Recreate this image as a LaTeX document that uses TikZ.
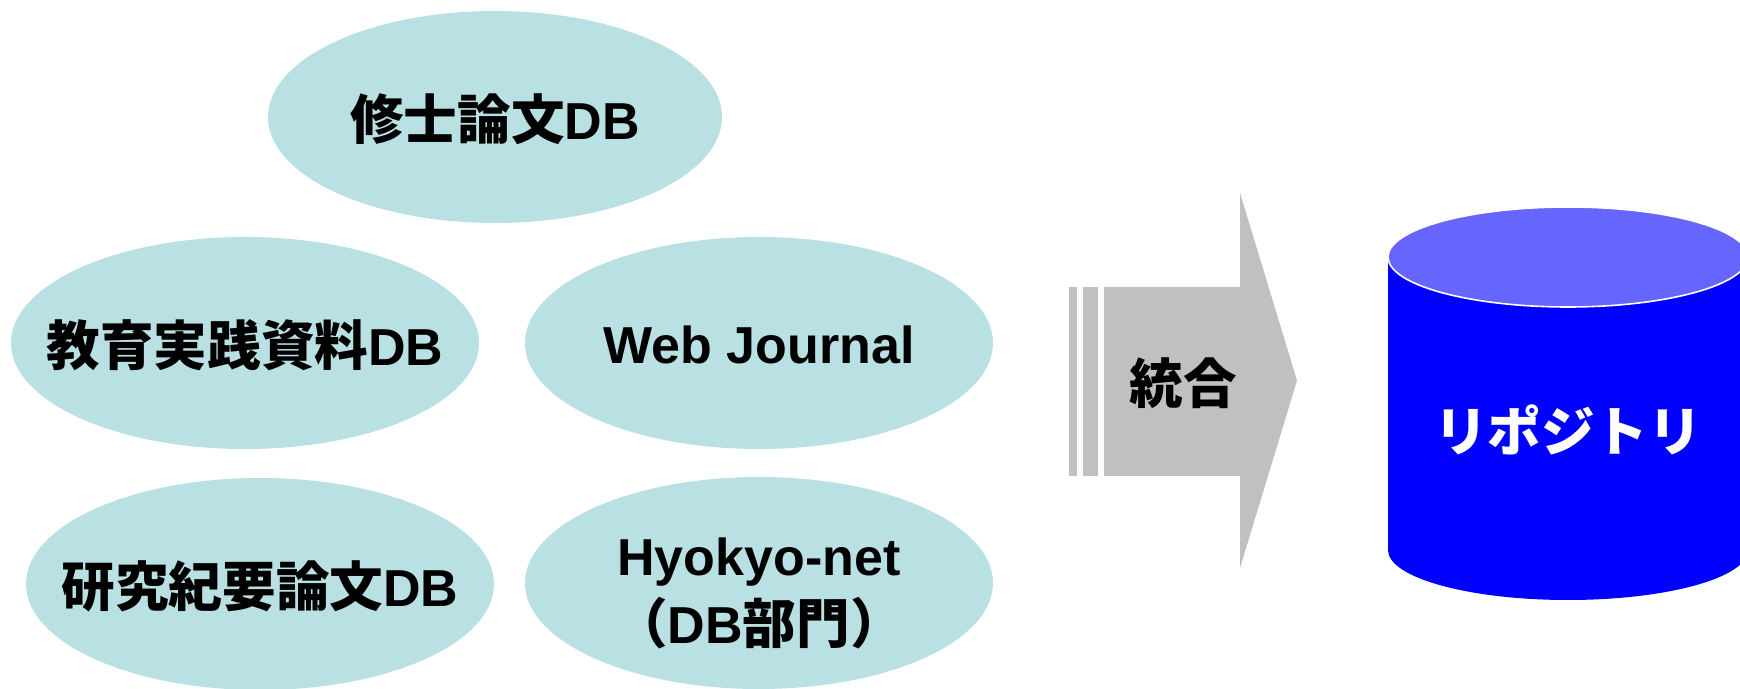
\documentclass[tikz,border=0pt]{standalone}
\usepackage{fontspec}
\setmainfont{Liberation Sans}
\newfontfamily\jp{Noto Sans CJK JP}[Scale=1.03]
\definecolor{ellfill}{HTML}{B9E0E3}
\definecolor{arrowgray}{HTML}{C0C0C0}
\definecolor{cylbody}{HTML}{0000FF}
\definecolor{cyltop}{HTML}{6666FF}
\tikzset{
  dbell/.style={fill=ellfill},
  lbl/.style={font=\fontsize{26}{34}\selectfont\bfseries, text=black, align=center, inner sep=0pt},
  arrowpart/.style={fill=arrowgray},
}
\begin{document}
\begin{tikzpicture}[x=0.5pt,y=-0.5pt]
\clip (0,0) rectangle (1740,689);
\fill[white] (0,0) rectangle (1740,689);
% source databases
\fill[dbell] (495,117) ellipse [x radius=227, y radius=106];
\fill[dbell] (245,343) ellipse [x radius=234, y radius=106];
\fill[dbell] (759,343) ellipse [x radius=234, y radius=106];
\fill[dbell] (260,584) ellipse [x radius=234, y radius=106];
\fill[dbell] (759,583) ellipse [x radius=234, y radius=106];
\node[lbl] (shushi) at (495,119) {{\jp 修士論文}DB};
\node[lbl] (kyoiku) at (245,345) {{\jp 教育実践資料}DB};
\node[lbl] (webj) at (759,345) {Web Journal};
\node[lbl] (kenkyu) at (260,586) {{\jp 研究紀要論文}DB};
\node[lbl] (hyokyo) at (759,593) {Hyokyo-net\\{\jp （}DB{\jp 部門）}};
% integration arrow
\fill[arrowpart] (1069,287) rectangle (1077,476);
\fill[arrowpart] (1083,287) rectangle (1098,476);
\fill[arrowpart] (1104,287) -- (1240,287) -- (1240,193) -- (1297,380.5)
  -- (1240,568) -- (1240,476) -- (1104,476) -- cycle;
\node[lbl] (togo) at (1183,383) {\jp 統合};
% repository cylinder
\fill[cylbody] (1388,257) rectangle (1748,550);
\fill[cylbody] (1568,550) ellipse [x radius=180, y radius=50];
\fill[cyltop, draw=white, line width=0.8pt] (1568,257) ellipse [x radius=180, y radius=50];
\node[lbl, text=white] (repo) at (1568,430) {\jp リポジトリ};
\end{tikzpicture}
\end{document}
